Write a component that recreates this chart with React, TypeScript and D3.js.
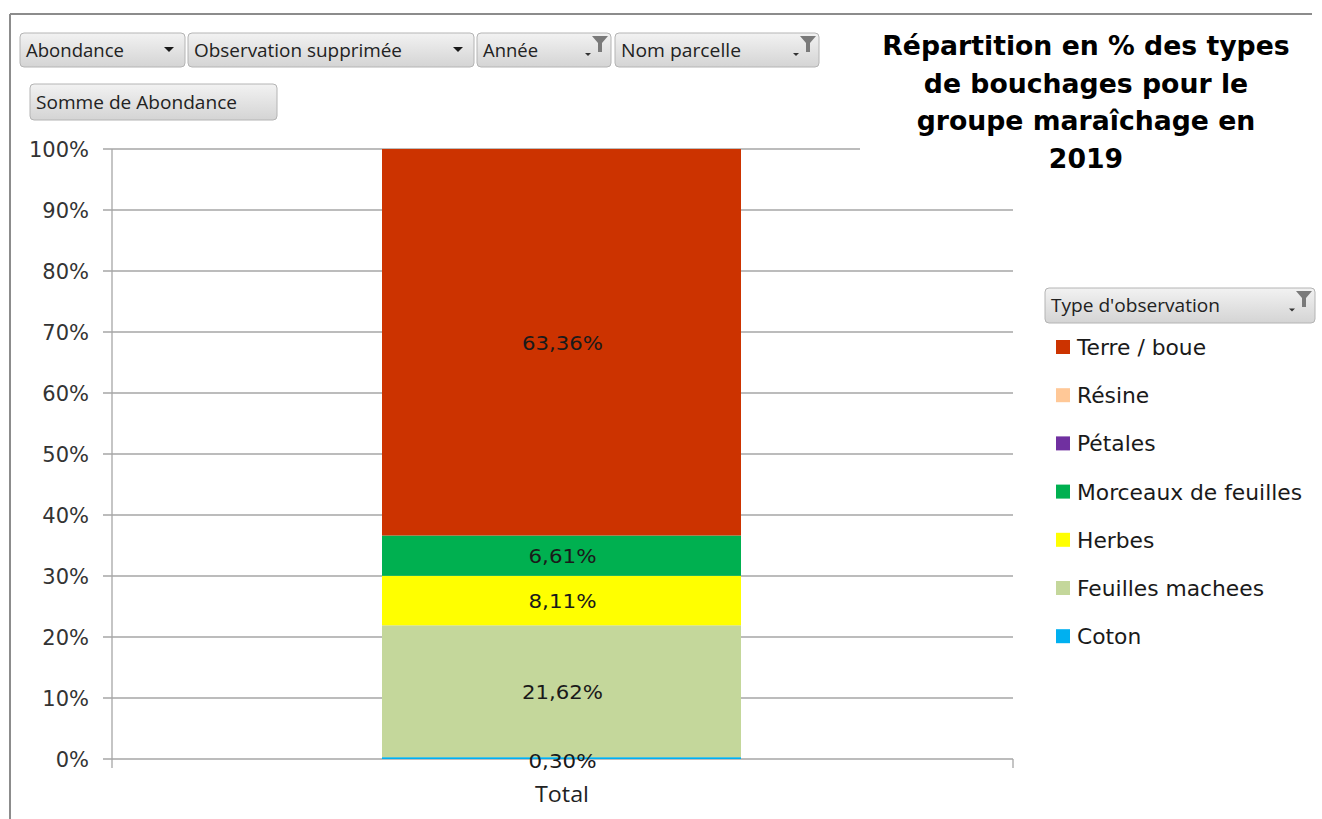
import React from "react";
import * as d3 from "d3";

// ---- data ----
const seriesNames = ["Coton", "Feuilles machees", "Herbes", "Morceaux de feuilles", "Pétales", "Résine", "Terre / boue"];
const seriesValues = [0.30, 21.62, 8.11, 6.61, 0, 0, 63.36];
const seriesColors = ["#00B0F0", "#C4D79B", "#FFFF00", "#00B050", "#7030A0", "#FFC897", "#CC3300"];
const legendOrder = ["Terre / boue", "Résine", "Pétales", "Morceaux de feuilles", "Herbes", "Feuilles machees", "Coton"];
const categories = ["Total"];
const yTicks = [0, 10, 20, 30, 40, 50, 60, 70, 80, 90, 100];
const titleLines = ["Répartition en % des types", "de bouchages pour le", "groupe maraîchage en", "2019"];
const topButtons = [
  { label: "Abondance", icon: "arrow" },
  { label: "Observation supprimée", icon: "arrow" },
  { label: "Année", icon: "filter" },
  { label: "Nom parcelle", icon: "filter" },
];

const W = 1322, H = 819;
const uiFont = "'Liberation Sans Narrow', 'Open Sans', 'Noto Sans', sans-serif";
const mainFont = "'DejaVu Sans', Verdana, sans-serif";

function Button({ x, y, w, h, label, icon, textW }: any) {
  return (
    <g>
      <rect x={x} y={y} width={w} height={h} rx={4} ry={4} fill="url(#btnGrad)" stroke="#B4B4B4" strokeWidth={1} />
      <text x={x + 6} y={y + h / 2 + 6.5} fontFamily={uiFont} fontSize={18} fill="#222"
        textLength={textW} lengthAdjust="spacingAndGlyphs">{label}</text>
      {icon === "arrow" && (
        <path d={`M${x + w - 21},${y + h / 2 - 3} l10,0 l-5,5 z`} fill="#1a1a1a" />
      )}
      {icon === "filter" && (
        <g>
          <path d={`M${x + w - 19},${y + 3} l16,0 l-6,7 l0,9 l-4,0 l0,-9 z`} fill="#7a7a7a" />
          <path d={`M${x + w - 26},${y + h / 2 + 3} l6,0 l-3,3 z`} fill="#333" />
        </g>
      )}
    </g>
  );
}

export default function App() {
  const y = d3.scaleLinear().domain([0, 100]).range([759, 149]);
  const x = d3.scaleBand().domain(categories).range([112, 1013]).paddingInner(0).paddingOuter(0.3);
  const barX = 382, barW = 741 - 382;
  const stack = d3.stack<any>().keys(seriesNames)([Object.fromEntries(seriesNames.map((n, i) => [n, seriesValues[i]]))]);
  const fmt = (v: number) => d3.format(".2f")(v).replace(".", ",") + "%";
  const colorOf = d3.scaleOrdinal<string, string>().domain(seriesNames).range(seriesColors);

  const btnXs = [20, 188, 477, 615];
  const btnWs = [165, 286, 134, 204];
  const btnTextW = [98, 208, 55, 120];

  const cx = (x(categories[0]) as number) + x.bandwidth() / 2;

  return (
    <svg width={W} height={H} style={{ position: "absolute", left: 0, top: 0, background: "#fff" }}>
      <defs>
        <linearGradient id="btnGrad" x1="0" y1="0" x2="0" y2="1">
          <stop offset="0" stopColor="#F2F2F2" />
          <stop offset="1" stopColor="#D4D4D4" />
        </linearGradient>
      </defs>
      <rect x={0} y={0} width={W} height={H} fill="#fff" />
      <line x1={10} y1={14} x2={1312} y2={14} stroke="#8C8C8C" strokeWidth={2} />
      <line x1={10} y1={14} x2={10} y2={H} stroke="#8C8C8C" strokeWidth={2} />

      {yTicks.map((t) => (
        <line key={t} x1={103} x2={t === 100 ? 860 : 1013} y1={y(t)} y2={y(t)} stroke="#A6A6A6" strokeWidth={1.3} />
      ))}
      <line x1={112} x2={112} y1={149} y2={768} stroke="#A6A6A6" strokeWidth={1.3} />
      <line x1={1013} x2={1013} y1={759} y2={768} stroke="#A6A6A6" strokeWidth={1.3} />
      {yTicks.map((t) => (
        <text key={t} x={89} y={y(t) + 8} textAnchor="end" fontFamily={mainFont} fontSize={21} fill="#333">{t}%</text>
      ))}

      {stack.map((s) => {
        const d = s[0];
        if (d[1] - d[0] <= 0) return null;
        return (
          <rect key={s.key} x={barX} width={barW} y={y(d[1])} height={y(d[0]) - y(d[1])} fill={colorOf(s.key)} />
        );
      })}
      {stack.map((s) => {
        const d = s[0];
        if (d[1] - d[0] <= 0) return null;
        const my = s.key === "Coton" ? 760 : y((d[0] + d[1]) / 2);
        return (
          <text key={s.key + "l"} x={cx} y={my + 7.5} textAnchor="middle" fontFamily={mainFont} fontSize={20} fill="#1a1a1a"
            textLength={fmt(d[1] - d[0]).length === 5 ? 68 : 81} lengthAdjust="spacingAndGlyphs">{fmt(d[1] - d[0])}</text>
        );
      })}
      <text x={562} y={802} textAnchor="middle" fontFamily={uiFont} fontSize={21} fill="#222" textLength={54} lengthAdjust="spacingAndGlyphs">{categories[0]}</text>

      <rect x={862} y={20} width={455} height={160} fill="#fff" />
      {titleLines.map((l, i) => (
        <text key={i} x={1086} y={55 + i * 37.5} textAnchor="middle" fontFamily={mainFont} fontWeight="bold" fontSize={26.7} fill="#000">{l}</text>
      ))}

      {topButtons.map((b, i) => (
        <Button key={b.label} x={btnXs[i]} y={33} w={btnWs[i]} h={34} label={b.label} icon={b.icon} textW={btnTextW[i]} />
      ))}
      <Button x={30} y={84} w={247} h={36} label="Somme de Abondance" icon="none" textW={201} />

      <Button x={1045} y={288} w={270} h={35} label="Type d'observation" icon="filter" textW={169} />
      {legendOrder.map((n, i) => {
        const ly = 347 + i * 48.2;
        return (
          <g key={n}>
            <rect x={1056} y={ly - 7} width={14} height={14} fill={colorOf(n)} />
            <text x={1077} y={ly + 8} fontFamily={mainFont} fontSize={21.8} fill="#1a1a1a">{n}</text>
          </g>
        );
      })}
    </svg>
  );
}
